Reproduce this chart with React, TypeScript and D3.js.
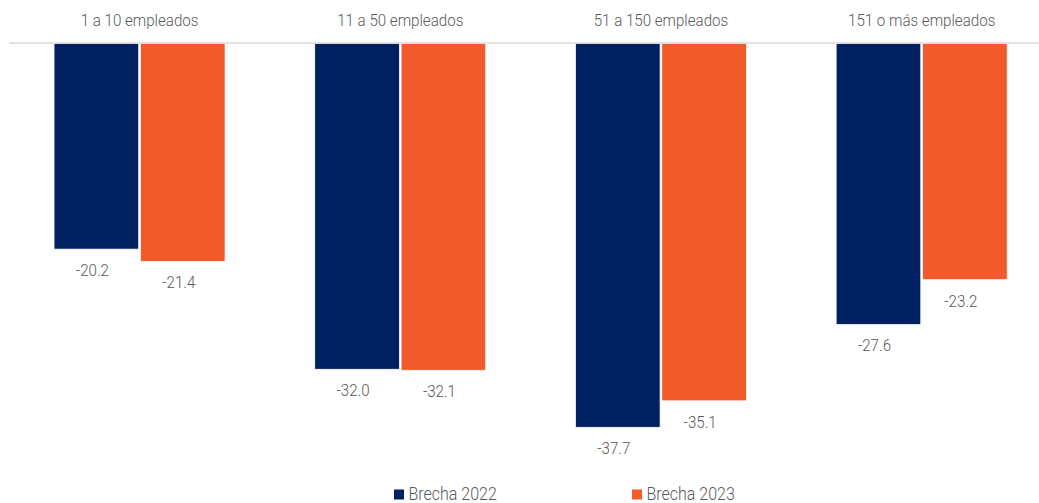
import React from "react";
import * as d3 from "d3";

const categories = ["1 a 10 empleados", "11 a 50 empleados", "51 a 150 empleados", "151 o más empleados"];
const seriesNames = ["Brecha 2022", "Brecha 2023"];
const values2022 = [-20.2, -32.0, -37.7, -27.6];
const values2023 = [-21.4, -32.1, -35.1, -23.2];
const seriesColors = ["#002060", "#F15A2B"];

const W = 1039;
const H = 503;
const FONT = "Roboto, 'Noto Sans', sans-serif";
const TEXT_COLOR = "#595959";
const SX = 0.89;

function CText({ x, y, anchor, size, children }: { x: number; y: number; anchor: string; size: number; children: any }) {
  return (
    <text
      transform={`translate(${x},${y}) scale(${SX},1)`}
      textAnchor={anchor}
      fontFamily={FONT}
      fontWeight={300}
      fontSize={size}
      fill={TEXT_COLOR}
    >
      {children}
    </text>
  );
}

export default function App() {
  const seriesValues = [values2022, values2023];
  const x0 = d3.scaleBand<string>().domain(categories).range([9.2, 1052]).paddingInner(0.344).paddingOuter(0.172);
  const x1 = d3.scaleBand<string>().domain(seriesNames).range([0, x0.bandwidth()]).paddingInner(0.02).paddingOuter(0);
  const y = d3.scaleLinear().domain([0, -40]).range([43.5, 43.5 + 407.2]);
  const fmt = d3.formatLocale({ decimal: ".", thousands: ",", grouping: [3], currency: ["", ""], minus: "-" }).format(".1f");

  const legendX = [394, 632];

  return (
    <div style={{ position: "fixed", left: 0, top: 0, width: W, height: H, background: "#fff" }}>
      <svg width={W} height={H} style={{ display: "block" }}>
        <rect x={0} y={0} width={W} height={H} fill="#fff" />
        {categories.map((c, i) => (
          <g key={c} transform={`translate(${x0(c)},0)`}>
            {seriesNames.map((s, j) => {
              const v = seriesValues[j][i];
              const bx = x1(s)!;
              const bw = x1.bandwidth();
              return (
                <g key={s}>
                  <rect
                    x={bx}
                    y={y(0)}
                    width={bw}
                    height={y(v) - y(0)}
                    fill={seriesColors[j]}
                    stroke="#ffffff"
                    strokeWidth={0.75}
                  />
                  <CText x={bx + bw / 2 - 4} y={y(v) + 27} anchor="middle" size={17}>
                    {fmt(v)}
                  </CText>
                </g>
              );
            })}
            <CText x={x0.bandwidth() / 2} y={26} anchor="middle" size={17}>
              {c}
            </CText>
          </g>
        ))}
        <line x1={9} x2={W} y1={43} y2={43} stroke="#d9d9d9" strokeWidth={1.5} />
        {seriesNames.map((s, j) => (
          <g key={s} transform={`translate(${legendX[j]},0)`}>
            <rect x={0} y={489.5} width={10} height={10} fill={seriesColors[j]} />
            <CText x={14.5} y={499.5} anchor="start" size={18}>
              {s}
            </CText>
          </g>
        ))}
      </svg>
    </div>
  );
}
